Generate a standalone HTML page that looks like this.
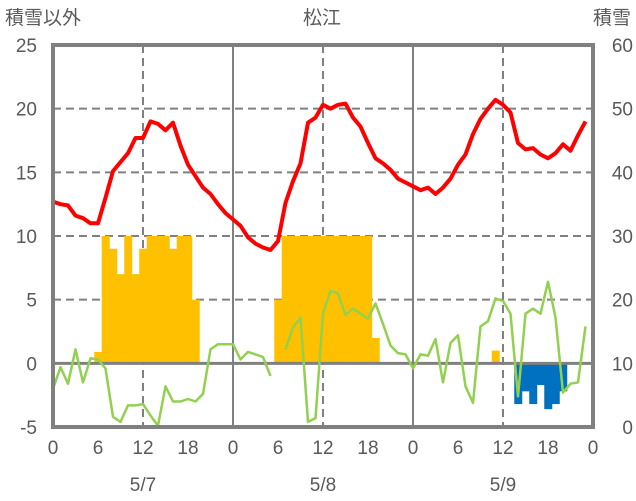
<!DOCTYPE html>
<html><head><meta charset="utf-8">
<style>
body{margin:0;background:#fff;}
svg{display:block;font-family:"Liberation Sans","Noto Sans CJK JP",sans-serif;}
text{fill:#595959;font-size:19px;}
</style></head>
<body>
<svg id="chart" width="636" height="501" viewBox="0 0 636 501">
<text x="5" y="24" font-size="19">積雪以外</text>
<text x="322" y="24" text-anchor="middle">松江</text>
<text x="631" y="24" text-anchor="end">積雪</text>
<g id="grid"></g>
<g id="bars"></g>
<g id="lines"></g>
<g id="axes"></g>
</svg>
<script>
const hours = Array.from({length:72},(_,i)=>i);
const temperature = [12.7,12.5,12.4,11.6,11.4,11.0,11.0,13.0,15.1,15.8,16.5,17.7,17.7,19.0,18.8,18.3,18.9,17.1,15.6,14.7,13.8,13.3,12.5,11.8,
11.3,10.8,9.9,9.4,9.1,8.9,9.6,12.6,14.3,15.7,18.9,19.3,20.3,20.0,20.3,20.4,19.3,18.6,17.3,16.1,15.7,15.2,14.5,14.2,
13.9,13.6,13.8,13.3,13.8,14.5,15.6,16.4,18.0,19.2,20.0,20.7,20.3,19.7,17.3,16.8,16.9,16.4,16.1,16.5,17.2,16.7,17.9,19.0];
const greenSeries = [-2.0,-0.3,-1.6,1.1,-1.5,0.4,0.3,-0.4,-4.2,-4.6,-3.3,-3.3,-3.2,-4.1,-4.9,-1.8,-3.0,-3.0,-2.8,-3.0,-2.4,1.1,1.5,1.5,
1.5,0.3,0.9,0.7,0.5,-1.0,null,1.1,2.8,3.6,-4.6,-4.3,3.9,5.7,5.5,3.8,4.3,3.9,3.5,4.7,3.1,1.4,0.8,0.7,
-0.4,0.7,0.6,1.9,-1.5,1.6,2.2,-1.8,-3.1,2.9,3.3,5.1,4.9,3.9,-2.6,3.9,4.3,3.9,6.4,3.6,-2.3,-1.6,-1.5,2.9];
const snowHours = [6,7,8,9,10,11,12,13,14,15,16,17,18,19,30,31,32,33,34,35,36,37,38,39,40,41,42,43,59];
const snowValues = [0.9,10,9,7,10,7,9,10,10,10,9,10,10,5,5,10,10,10,10,10,10,10,10,10,10,10,10,2,1];
const meltHours = [62,63,64,65,66,67,68];
const meltValues = [-3.2,-2.2,-3.2,-1.7,-3.6,-3.2,-2.2];
const leftTicks = [-5,0,5,10,15,20,25];
const rightTicks = [0,10,20,30,40,50,60];
const xTickLabels = ["0","6","12","18","0","6","12","18","0","6","12","18","0"];
const dateLabels = ["5/7","5/8","5/9"];

const X0=53,X1=593,Y0=45,Y1=427;
const xs=h=>X0+h*(X1-X0)/72;
const yl=v=>Y1-(v+5)*(Y1-Y0)/30;
const yr=v=>Y1-v*(Y1-Y0)/60;
const NS="http://www.w3.org/2000/svg";
function mk(tag,attrs,parent){const e=document.createElementNS(NS,tag);for(const k in attrs)e.setAttribute(k,attrs[k]);parent.appendChild(e);return e;}
const grid=document.getElementById('grid'),bars=document.getElementById('bars'),lines=document.getElementById('lines'),axes=document.getElementById('axes');

leftTicks.forEach(v=>{
  if(v>-5&&v<25&&v!==0){const l=mk('line',{x1:X0,x2:X1,y1:yl(v),y2:yl(v),stroke:'#808080','stroke-width':2,'stroke-dasharray':'8,5'},grid);
  }
  const t=mk('text',{x:37,y:yl(v)+7,'text-anchor':'end'},axes);t.textContent=v;
  
});
rightTicks.forEach(v=>{
  const t=mk('text',{x:633,y:yr(v)+7,'text-anchor':'end'},axes);t.textContent=v;
  
});
xTickLabels.forEach((s,i)=>{
  const h=i*6;
  if(i>0&&i<12){
    const solid=(h%24===0);
    const l=mk('line',{x1:xs(h),x2:xs(h),y1:Y0,y2:Y1,stroke:'#808080','stroke-width':2},grid);
    if(!solid){l.setAttribute('stroke-dasharray','8,5');}
    if(h%12===0){}
    else{l.remove();}
  }
  const t=mk('text',{x:xs(h),y:454,'text-anchor':'middle'},axes);t.textContent=s;
  
});
dateLabels.forEach((s,i)=>{
  const t=mk('text',{x:xs(12+24*i),y:491,'text-anchor':'middle'},axes);t.textContent=s;
  
});
const bw=(X1-X0)/72;
snowHours.forEach((h,i)=>{
  const v=snowValues[i];
  const r=mk('rect',{x:xs(h)-bw/2,y:yl(v),width:bw+0.5,height:yl(0)-yl(v),fill:'#FFC000'},bars);
  
});
meltHours.forEach((h,i)=>{
  const v=meltValues[i];
  const r=mk('rect',{x:xs(h)-bw/2,y:yl(0),width:bw+0.5,height:yl(v)-yl(0),fill:'#0070C0'},bars);
  
});
const zl=mk('line',{x1:X0,x2:X1,y1:yl(0),y2:yl(0),stroke:'#808080','stroke-width':3},lines);

function path(vals,color,w,name){
  let d='',pen=false;
  vals.forEach((v,i)=>{if(v===null){pen=false;return;}d+=(pen?'L':'M')+xs(hours[i]).toFixed(1)+','+yl(v).toFixed(1);pen=true;});
  const p=mk('path',{d:d,fill:'none',stroke:color,'stroke-width':w,'stroke-linejoin':'round'},lines);
  
}
path(greenSeries,'#92D050',2.5,'green-series-line');
path(temperature,'#FF0000',4,'temperature-line');
const fr=mk('rect',{x:X0,y:Y0,width:X1-X0,height:Y1-Y0,fill:'none',stroke:'#808080','stroke-width':4},axes);

</script>
</body></html>
